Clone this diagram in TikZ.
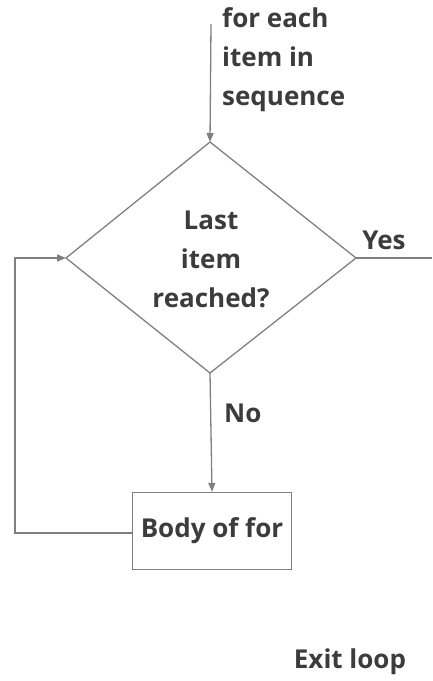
\documentclass[tikz,border=0pt]{standalone}
\usepackage{fontspec}
\setmainfont{Open Sans}
\usetikzlibrary{arrows.meta}
\definecolor{linegray}{RGB}{128,128,128}
\definecolor{textgray}{RGB}{60,60,60}
\begin{document}
\begin{tikzpicture}[x=1pt,y=-1pt,
  conn/.style={draw=linegray,line width=1.3pt},
  arr/.style={conn,-{Triangle[length=9pt,width=7pt]}},
  lbl/.style={text=textgray,font=\fontsize{26}{39}\selectfont\bfseries,inner sep=0pt},
  boxstyle/.style={draw=linegray,line width=1.3pt,fill=white,minimum width=159pt,minimum height=77pt,inner sep=0pt}]
\useasboundingbox (0,0) rectangle (432,681);
% decision diamond
\coordinate (dt) at (210,142);
\coordinate (dl) at (66,258);
\coordinate (dr) at (356,258);
\coordinate (db) at (210,373);
\draw[conn] (dt) -- (dr) -- (db) -- (dl) -- cycle;
\node[lbl,align=center] (cond) at (211,259) {Last\\item\\reached?};
% entry
\coordinate (start) at (211,24);
\node[lbl,align=left,anchor=north west] (entry) at (222,7) {for each\\item in\\sequence};
\draw[arr] (start) -- (dt);
% body box
\node[boxstyle] (body) at (212,531) {};
\node[lbl] (bodytxt) at (body.center) {Body of for};
\draw[arr] (db) -- (body.north);
\node[lbl,anchor=west] (no) at (224,413) {No};
% loop back
\coordinate (lb) at (15,533);
\coordinate (lt) at (15,258);
\draw[arr] (body.west |- lb) -- (lb) -- (lt) -- (dl);
% exit
\coordinate (exitend) at (432,258);
\draw[conn] (dr) -- (exitend);
\node[lbl] (yes) at (384,240) {Yes};
\node[lbl] (exit) at (350,662) {Exit loop};
\end{tikzpicture}
\end{document}
